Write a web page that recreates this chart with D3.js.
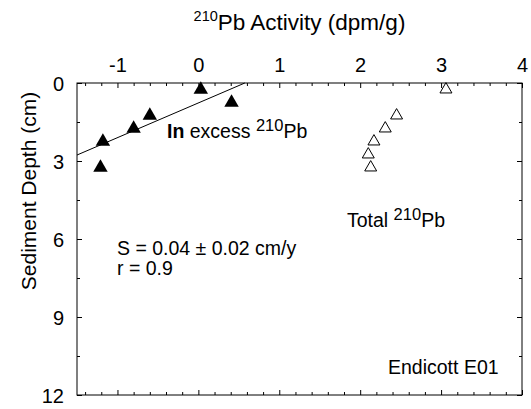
<!DOCTYPE html>
<html>
<head>
<meta charset="utf-8">
<script src="https://cdn.jsdelivr.net/npm/d3@7"></script>
<style>
  html, body { margin: 0; padding: 0; background: #fff; }
  svg { display: block; font-family: "Liberation Sans", Arial, sans-serif; }
</style>
</head>
<body>
<svg id="chart" width="531" height="409"></svg>
<script>
// Excess 210Pb (ln-scale activity) versus depth
const excessActivity = [0.03, 0.41, -0.6, -0.8, -1.18, -1.21];
const excessDepth    = [0.25, 0.75, 1.25, 1.75, 2.25, 3.25];

// Total 210Pb activity versus depth
const totalActivity = [3.06, 2.45, 2.31, 2.17, 2.10, 2.13];
const totalDepth    = [0.25, 1.25, 1.75, 2.25, 2.75, 3.25];

// Regression line through the excess profile (end points)
const fitActivity = [-1.5, 0.574];
const fitDepth    = [2.77, 0];

// Axis ticks
const xTicks = [-1, 0, 1, 2, 3, 4];
const yTicks = [0, 3, 6, 9, 12];
const xMinor = d3.range(-7, 21).map(i => +(i * 0.2).toFixed(1)).filter(v => !Number.isInteger(v));
const yMinor = [1.5, 4.5, 7.5, 10.5];

const svg = d3.select("#chart");
const x = d3.scaleLinear().domain([-1.5, 4]).range([77, 522]);
const y = d3.scaleLinear().domain([0, 12]).range([83, 395]);

const tickFont = 20;
const noteFont = 19.5;

function styleAxis(g) {
  g.select(".domain").remove();
  g.selectAll("line").attr("stroke", "#000").attr("stroke-width", 1);
  g.selectAll("text").attr("font-size", tickFont).attr("fill", "#000")
   .attr("font-family", "'Liberation Sans', Arial, sans-serif");
}

// Tick labels use a plain hyphen for negatives
const plainFormat = d => String(d);

// Top axis (labelled)
svg.append("g").attr("transform", `translate(0,${y(0)})`)
  .call(d3.axisTop(x).tickValues(xTicks).tickSize(-5).tickPadding(11).tickFormat(plainFormat))
  .call(styleAxis);
svg.append("g").attr("transform", `translate(0,${y(0)})`)
  .call(d3.axisTop(x).tickValues(xMinor).tickSize(-3).tickFormat(""))
  .call(styleAxis);

// Bottom axis (ticks only)
svg.append("g").attr("transform", `translate(0,${y(12)})`)
  .call(d3.axisBottom(x).tickValues(xTicks).tickSize(-5).tickFormat(""))
  .call(styleAxis);
svg.append("g").attr("transform", `translate(0,${y(12)})`)
  .call(d3.axisBottom(x).tickValues(xMinor).tickSize(-3).tickFormat(""))
  .call(styleAxis);

// Left axis (labelled)
svg.append("g").attr("transform", `translate(${x(-1.5)},0)`)
  .call(d3.axisLeft(y).tickValues(yTicks).tickSize(-5).tickPadding(13).tickFormat(plainFormat))
  .call(styleAxis)
  .call(g => g.selectAll("text").attr("dy", "0.38em"));
svg.append("g").attr("transform", `translate(${x(-1.5)},0)`)
  .call(d3.axisLeft(y).tickValues(yMinor).tickSize(-3).tickFormat(""))
  .call(styleAxis);

// Right axis (ticks only)
svg.append("g").attr("transform", `translate(${x(4)},0)`)
  .call(d3.axisRight(y).tickValues(yTicks).tickSize(-5).tickFormat(""))
  .call(styleAxis);
svg.append("g").attr("transform", `translate(${x(4)},0)`)
  .call(d3.axisRight(y).tickValues(yMinor).tickSize(-3).tickFormat(""))
  .call(styleAxis);

// Plot frame
svg.append("rect")
  .attr("x", x(-1.5)).attr("y", y(0))
  .attr("width", x(4) - x(-1.5)).attr("height", y(12) - y(0))
  .attr("fill", "none").attr("stroke", "#000").attr("stroke-width", 1);

// Regression line
svg.append("path")
  .datum(d3.zip(fitActivity, fitDepth))
  .attr("d", d3.line().x(d => x(d[0])).y(d => y(d[1])))
  .attr("fill", "none").attr("stroke", "#000").attr("stroke-width", 1);

// Excess points: filled triangles
svg.append("g").selectAll("path")
  .data(d3.zip(excessActivity, excessDepth))
  .join("path")
  .attr("transform", d => `translate(${x(d[0])},${y(d[1])})`)
  .attr("d", d3.symbol(d3.symbolTriangle, 90))
  .attr("fill", "#000");

// Total points: open triangles
svg.append("g").selectAll("path")
  .data(d3.zip(totalActivity, totalDepth))
  .join("path")
  .attr("transform", d => `translate(${x(d[0])},${y(d[1])})`)
  .attr("d", d3.symbol(d3.symbolTriangle, 62))
  .attr("fill", "#fff").attr("stroke", "#000").attr("stroke-width", 1);

// Text helper with superscript 210
function isotopeText(parent, xPos, yPos, parts, size, supSize, anchor) {
  const t = parent.append("text")
    .attr("x", xPos).attr("y", yPos)
    .attr("font-size", size).attr("fill", "#000")
    .attr("text-anchor", anchor || "start");
  const rise = size * 0.38;
  parts.forEach(p => {
    const s = t.append("tspan").text(p.text);
    if (p.sup) s.attr("font-size", supSize).attr("dy", -rise);
    if (p.down) s.attr("dy", rise);
    if (p.bold) s.attr("font-weight", "bold");
  });
  return t;
}

// Axis titles
isotopeText(svg, (x(-1.5) + x(4)) / 2, 30,
  [{ text: "210", sup: true }, { text: "Pb Activity (dpm/g)", down: true }], 22.5, 14.5, "middle");

svg.append("text")
  .attr("transform", `translate(36,191) rotate(-90)`)
  .attr("text-anchor", "middle")
  .attr("font-size", 21).attr("fill", "#000")
  .text("Sediment Depth (cm)");

// Annotations
isotopeText(svg, 167, 138,
  [{ text: "In", bold: true }, { text: " excess " }, { text: "210", sup: true }, { text: "Pb", down: true }], noteFont, 16.5);
isotopeText(svg, 347, 227,
  [{ text: "Total " }, { text: "210", sup: true }, { text: "Pb", down: true }], noteFont, 16.5);

svg.append("text").attr("x", 117).attr("y", 255).attr("font-size", noteFont)
  .text("S = 0.04 ± 0.02 cm/y");
svg.append("text").attr("x", 117).attr("y", 275).attr("font-size", noteFont)
  .text("r = 0.9");
svg.append("text").attr("x", 388).attr("y", 374).attr("font-size", noteFont)
  .text("Endicott E01");
</script>
</body>
</html>
